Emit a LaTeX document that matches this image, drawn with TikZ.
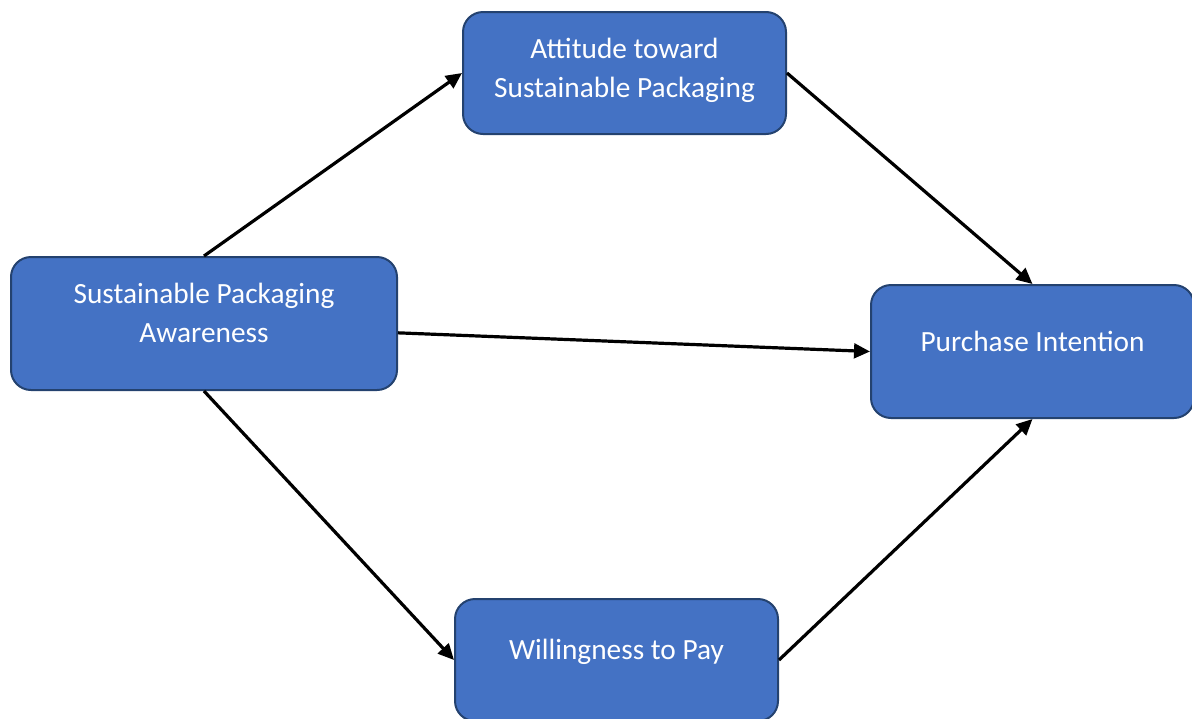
\documentclass[tikz,border=0pt]{standalone}
\usepackage{fontspec}
\setmainfont{Carlito}
\usetikzlibrary{positioning}
\usetikzlibrary{arrows.meta}

\definecolor{boxfill}{HTML}{4472C4}
\definecolor{boxline}{HTML}{24426F}

% text sits a little above the middle of each box
\newcommand{\boxtext}[2][6pt]{\raisebox{#1}[\height][\depth]{\begin{tabular}{@{}c@{}}#2\end{tabular}}}

\tikzset{
  varbox/.style={draw=boxline, fill=boxfill, line width=1.5pt, rounded corners=15pt,
    text=white, font=\fontsize{22}{29}\selectfont, inner sep=0pt},
  link/.style={line width=2.4pt, -{Triangle[length=12pt,width=11pt]}}
}

\begin{document}
\begin{tikzpicture}[x=0.75pt,y=-0.75pt]
\useasboundingbox (0,0) rectangle (1192,718);

\node[varbox, minimum width=289.5pt, minimum height=99.75pt] (aware) at (204,323.5)
  {\boxtext{Sustainable Packaging\\Awareness}};
\node[varbox, minimum width=242.25pt, minimum height=91.5pt] (attitude) at (624.5,73)
  {\boxtext[2pt]{Attitude toward\\Sustainable Packaging}};
\node[varbox, minimum width=242.25pt, minimum height=99.75pt] (intent) at (1032.5,351.5)
  {\boxtext{Purchase Intention}};
\node[varbox, minimum width=242.25pt, minimum height=91.5pt] (pay) at (616.5,660)
  {\boxtext{Willingness to Pay}};

\draw[link] (aware.north) -- (attitude.west);
\draw[link] (attitude.east) -- (intent.north);
\draw[link] ([yshift=-7pt]aware.east) -- (intent.west);
\draw[link] (aware.south) -- (pay.west);
\draw[link] (pay.east) -- (intent.south);
\end{tikzpicture}
\end{document}
